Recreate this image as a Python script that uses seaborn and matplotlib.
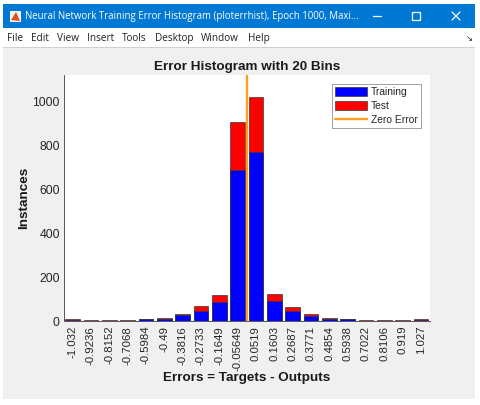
import numpy as np
import pandas as pd
import matplotlib
matplotlib.use("Agg")
import matplotlib.pyplot as plt
from matplotlib.patches import Rectangle
from matplotlib.lines import Line2D
import seaborn as sns

bin_labels = ["-1.032", "-0.9236", "-0.8152", "-0.7068", "-0.5984", "-0.49", "-0.3816",
              "-0.2733", "-0.1649", "-0.05649", "0.0519", "0.1603", "0.2687", "0.3771",
              "0.4854", "0.5938", "0.7022", "0.8106", "0.919", "1.027"]
training = [6, 2, 2, 2, 8, 8, 28, 45, 85, 690, 770, 90, 45, 23, 8, 8, 2, 2, 2, 6]
test = [2, 1, 1, 1, 2, 6, 5, 23, 33, 220, 252, 35, 20, 7, 6, 2, 1, 1, 1, 2]

window_title = "Neural Network Training Error Histogram (ploterrhist), Epoch 1000, Maxi..."
menu_items = ["File", "Edit", "View", "Insert", "Tools", "Desktop", "Window", "Help"]
menu_px = [7, 31, 57, 87, 122, 155, 201, 248]

W, H = 480, 405
sns.set_theme(style="white")
plt.rcParams["font.family"] = ["Liberation Sans", "DejaVu Sans"]
fig = plt.figure(figsize=(W / 100, H / 100), dpi=100, facecolor="white")


def frect(x0, y0, x1, y1, color, z=0):
    fig.add_artist(Rectangle((x0 / W, 1 - y1 / H), (x1 - x0) / W, (y1 - y0) / H,
                             transform=fig.transFigure, facecolor=color,
                             edgecolor="none", zorder=z))


def ftext(x, y, s, **kw):
    fig.text(x / W, 1 - y / H, s, **kw)


frect(3, 4, 475, 28, "#0078D4")
frect(3, 28, 475, 47, "#FFFFFF")
frect(3, 47, 475, 399, "#F0F0F0")
frect(3, 46.5, 475, 47.5, "#D0D0D0")

ftext(25, 16, window_title, color="white", fontsize=6.9, va="center",
      family=["Open Sans", "DejaVu Sans"])
for item, px in zip(menu_items, menu_px):
    ftext(px, 38.5, item, color="#222222", fontsize=7.2, va="center",
          family=["Open Sans", "DejaVu Sans"])

# application icon and caption buttons
frect(10, 11, 21, 22, "#F3F3F3", 1)
fig.add_artist(plt.Polygon([(11 / W, 1 - 20 / H), (16 / W, 1 - 12 / H), (20 / W, 1 - 21 / H)],
                           transform=fig.transFigure, facecolor="#D9531E",
                           edgecolor="none", zorder=2))
fig.add_artist(Line2D([373 / W, 381 / W], [1 - 16 / H, 1 - 16 / H], color="white", lw=0.9))
fig.add_artist(Rectangle((412 / W, 1 - 20 / H), 8 / W, 8 / H, transform=fig.transFigure,
                         facecolor="none", edgecolor="white", lw=0.9))
fig.add_artist(Line2D([452 / W, 460 / W], [1 - 20 / H, 1 - 12 / H], color="white", lw=0.9))
fig.add_artist(Line2D([452 / W, 460 / W], [1 - 12 / H, 1 - 20 / H], color="white", lw=0.9))
ftext(469, 38.5, "↘", color="#222222", fontsize=6, ha="center", va="center",
      family=["DejaVu Sans"])

# plot area
ax = fig.add_axes([64 / W, 1 - 321 / H, (430 - 64) / W, (321 - 75) / H], facecolor="white")
df = pd.DataFrame({"bin": bin_labels, "training": training, "test": test})
df["total"] = df["training"] + df["test"]

sns.barplot(data=df, x="bin", y="total", color="#FF0000", saturation=1, width=0.8,
            edgecolor="#3A3A3A", linewidth=0.5, ax=ax, zorder=2)
sns.barplot(data=df, x="bin", y="training", color="#0000FF", saturation=1, width=0.8,
            edgecolor="#3A3A3A", linewidth=0.5, ax=ax, zorder=3)

centres = np.array([float(v) for v in bin_labels])
zero_pos = np.interp(0.0, centres, np.arange(len(centres)))
ax.axvline(zero_pos, color="#FF9F1A", lw=1.7, zorder=4)

ax.set_xlim(-0.47, 19.5)
ax.set_ylim(0, 1123)
ax.set_yticks([0, 200, 400, 600, 800, 1000])
ax.tick_params(axis="y", labelsize=8.8, length=2.5, width=0.6, direction="in", colors="#262626", pad=3)
ax.tick_params(axis="x", labelsize=8.2, length=2.5, width=0.6, direction="in", colors="#262626", pad=3.5,
               labelrotation=90)
sns.despine(ax=ax)
for s in ["left", "bottom"]:
    ax.spines[s].set_color("#555555")
    ax.spines[s].set_linewidth(0.7)
ax.set_xlabel("Errors = Targets - Outputs", fontsize=9.7, fontweight="bold", color="#1A1A1A", labelpad=0.5)
ax.set_ylabel("Instances", fontsize=9.7, fontweight="bold", color="#1A1A1A", labelpad=2)
ax.set_title("Error Histogram with 20 Bins", fontsize=9.7, fontweight="bold", color="#1A1A1A", pad=3.5)

handles = [Rectangle((0, 0), 1, 1, facecolor="#0000FF", edgecolor="#3A3A3A", lw=0.5),
           Rectangle((0, 0), 1, 1, facecolor="#FF0000", edgecolor="#3A3A3A", lw=0.5),
           Line2D([0], [0], color="#FF9F1A", lw=1.7)]
leg = ax.legend(handles, ["Training", "Test", "Zero Error"], loc="upper left",
                bbox_to_anchor=((332 - 64) / (430 - 64), 1 - (84 - 75) / (321 - 75)),
                borderaxespad=0, fontsize=7.4, frameon=True, fancybox=False, framealpha=1,
                edgecolor="#A0A0A0", handlelength=3.1, handleheight=1.0, handletextpad=0.4,
                borderpad=0.3, labelspacing=0.35, labelcolor="#262626")
leg.get_frame().set_linewidth(0.7)
leg.set_zorder(6)

fig.savefig("out.png", dpi=100, facecolor="white")
